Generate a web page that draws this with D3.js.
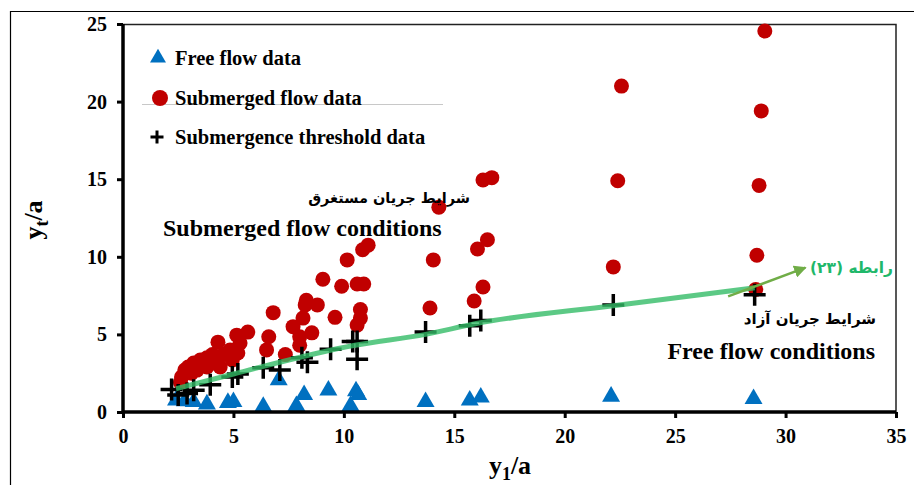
<!DOCTYPE html>
<html>
<head>
<meta charset="utf-8">
<script src="https://cdn.jsdelivr.net/npm/d3@7"></script>
<style>
  body { margin: 0; background: #fff; }
  svg { display: block; }
  .tick text { font-family: "Liberation Serif", "Times New Roman", serif; font-weight: bold; font-size: 20px; fill: #000; }
</style>
</head>
<body>
<div id="chart"></div>
<script>
// axis ticks
const xTicks = [0, 5, 10, 15, 20, 25, 30, 35];
const yTicks = [0, 5, 10, 15, 20, 25];

// free flow data (triangles)
const freeX = [2.4, 2.8, 3.2, 3.8, 4.75, 5.0, 6.35, 7.05, 7.85, 8.2, 9.3, 10.3, 10.55, 10.65, 13.7, 15.7, 16.2, 22.1, 28.55];
const freeY = [0.75, 0.7, 0.65, 0.5, 0.6, 0.65, 0.35, 2.05, 0.4, 1.1, 1.4, 0.4, 1.35, 1.1, 0.65, 0.75, 0.95, 1.0, 0.85];

// submerged flow data (circles)
const subX = [2.6, 2.65, 2.8, 2.95, 3.1, 3.2, 3.35, 3.5, 3.8, 3.8, 4.05, 4.2, 4.3, 4.4, 4.55, 4.85, 4.95, 5.15, 5.2, 5.3, 5.65,
  6.5, 6.6, 6.8, 7.35, 7.7, 8.0, 8.0, 8.15, 8.25, 8.3, 8.55, 8.8, 9.05, 9.6, 9.9, 10.15, 10.6, 10.6, 10.75, 10.75, 10.85, 10.9, 11.1,
  13.9, 14.05, 14.3, 15.9, 16.05, 16.3, 16.3, 16.5, 16.7,
  22.2, 22.4, 22.57, 28.65, 28.7, 28.8, 28.9, 29.06];
const subY = [1.9, 2.25, 2.7, 2.9, 2.5, 3.15, 2.7, 3.35, 3.5, 2.9, 3.7, 3.2, 4.5, 2.9, 3.7, 4.0, 3.35, 4.95, 3.8, 4.45, 5.15,
  4.0, 4.85, 6.4, 3.7, 5.5, 4.85, 4.3, 6.05, 6.9, 7.2, 5.1, 6.9, 8.55, 6.1, 8.1, 9.8, 5.6, 8.25, 6.6, 6.05, 10.45, 8.25, 10.75,
  6.7, 9.8, 13.2, 7.15, 10.5, 8.05, 14.95, 11.1, 15.1,
  9.35, 14.9, 21.0, 7.9, 10.1, 14.6, 19.4, 24.55];

// submergence threshold data (plus)
const thrX = [2.2, 2.5, 2.9, 3.2, 3.95, 4.95, 5.2, 6.35, 7.1, 8.1, 8.35, 9.4, 10.4, 10.6, 10.6, 13.7, 15.7, 16.2, 22.2, 28.6];
const thrY = [1.45, 1.1, 1.2, 1.4, 1.75, 2.25, 2.45, 2.85, 2.7, 3.5, 3.2, 4.05, 4.55, 4.55, 3.4, 5.15, 5.55, 5.9, 6.9, 7.55];

// relation (23) curve
const relX = [2.4, 5.0, 10.5, 13.7, 16.0, 22.2, 28.6];
const relY = [1.5, 2.45, 4.3, 5.0, 5.7, 6.85, 8.0];

const legendLabels = ["Free flow data", "Submerged flow data", "Submergence threshold data"];

const W = 914, H = 485;
const margin = { top: 24, right: 18, bottom: 73, left: 123 };
const width = W - margin.left - margin.right;
const height = H - margin.top - margin.bottom;

const svg = d3.select("#chart").append("svg")
  .attr("width", W).attr("height", H);

// outer frame
svg.append("path")
  .attr("d", `M10.5,${H} V11.5 H${W}`)
  .attr("fill", "none").attr("stroke", "#000").attr("stroke-width", 1.2);

const g = svg.append("g").attr("transform", `translate(${margin.left},${margin.top})`);

const x = d3.scaleLinear().domain([0, 35]).range([0, width]);
const y = d3.scaleLinear().domain([0, 25]).range([height, 0]);

// plot frame (top and right)
g.append("path")
  .attr("d", `M0,0.5 H${width} V${height}`)
  .attr("fill", "none").attr("stroke", "#222").attr("stroke-width", 1.5);

const serif = '"Liberation Serif", "Times New Roman", serif';
const fa = '"DejaVu Sans", sans-serif';

// data marks
const tri = d3.symbol().type(d3.symbolTriangle).size(140);
g.append("g").selectAll("path")
  .data(freeX.map((v, i) => [v, freeY[i]]))
  .join("path")
  .attr("d", tri)
  .attr("transform", d => `translate(${x(d[0])},${y(d[1])})`)
  .attr("fill", "#0070c0");

g.append("g").selectAll("circle")
  .data(subX.map((v, i) => [v, subY[i]]))
  .join("circle")
  .attr("cx", d => x(d[0])).attr("cy", d => y(d[1]))
  .attr("r", 7.5)
  .attr("fill", "#c00000");

const plusPath = s => `M${-s},0 H${s} M0,${-s} V${s}`;
g.append("g").selectAll("path")
  .data(thrX.map((v, i) => [v, thrY[i]]))
  .join("path")
  .attr("d", plusPath(11))
  .attr("transform", d => `translate(${x(d[0])},${y(d[1])})`)
  .attr("stroke", "#000").attr("stroke-width", 3.5).attr("fill", "none");

// relation (23) line
const line = d3.line()
  .x(d => x(d[0])).y(d => y(d[1]))
  .curve(d3.curveMonotoneX);
g.append("path")
  .datum(relX.map((v, i) => [v, relY[i]]))
  .attr("d", line)
  .attr("fill", "none")
  .attr("stroke", "#33bb66").attr("stroke-opacity", 0.8)
  .attr("stroke-width", 5);

// axes
const xAxis = g.append("g")
  .attr("transform", `translate(0,${height})`)
  .call(d3.axisBottom(x).tickValues(xTicks).tickSize(6).tickPadding(11));
const yAxis = g.append("g")
  .call(d3.axisLeft(y).tickValues(yTicks).tickSize(6).tickPadding(10));
[xAxis, yAxis].forEach(a => {
  a.select(".domain").attr("stroke", "#000").attr("stroke-width", 3.5);
  a.selectAll(".tick line").attr("stroke", "#000").attr("stroke-width", 3);
});
xAxis.select(".domain").attr("d", `M0,0 H${width}`);
yAxis.select(".domain").attr("d", `M0,${height} V0`);

// axis titles
const yt = svg.append("text")
  .attr("transform", "translate(42,220) rotate(-90)")
  .attr("text-anchor", "middle")
  .attr("font-family", serif).attr("font-weight", "bold").attr("font-size", 26);
yt.append("tspan").text("y");
yt.append("tspan").attr("font-size", 18).attr("dy", 6).text("t");
yt.append("tspan").attr("dy", -6).text("/a");

const xt = svg.append("text")
  .attr("x", 510).attr("y", 474)
  .attr("text-anchor", "middle")
  .attr("font-family", serif).attr("font-weight", "bold").attr("font-size", 26);
xt.append("tspan").text("y");
xt.append("tspan").attr("font-size", 18).attr("dy", 6).text("1");
xt.append("tspan").attr("dy", -6).text("/a");

// legend
const lg = svg.append("g").attr("font-family", serif).attr("font-weight", "bold").attr("font-size", 20.5);
lg.append("line").attr("x1", 142).attr("x2", 443).attr("y1", 104.5).attr("y2", 104.5)
  .attr("stroke", "#c8c8c8").attr("stroke-width", 1);
lg.append("path").attr("d", d3.symbol().type(d3.symbolTriangle).size(110))
  .attr("transform", "translate(158,58)").attr("fill", "#0070c0");
lg.append("circle").attr("cx", 160).attr("cy", 98).attr("r", 8).attr("fill", "#c00000");
lg.append("path").attr("d", plusPath(6.5)).attr("transform", "translate(157,137)")
  .attr("stroke", "#000").attr("stroke-width", 3);
[65, 105, 144].forEach((yy, i) => {
  lg.append("text").attr("x", 175).attr("y", yy).text(legendLabels[i]);
});

// annotations
svg.append("text").attr("x", 470).attr("y", 203).attr("text-anchor", "end")
  .attr("font-family", fa).attr("font-weight", "bold").attr("font-size", 14.5)
  .text("شرایط جریان مستغرق");
svg.append("text").attr("x", 163).attr("y", 236)
  .attr("font-family", serif).attr("font-weight", "bold").attr("font-size", 24)
  .text("Submerged flow conditions");
svg.append("text").attr("x", 876).attr("y", 324).attr("text-anchor", "end")
  .attr("font-family", fa).attr("font-weight", "bold").attr("font-size", 15)
  .text("شرایط جریان آزاد");
svg.append("text").attr("x", 875).attr("y", 359).attr("text-anchor", "end")
  .attr("font-family", serif).attr("font-weight", "bold").attr("font-size", 24)
  .text("Free flow conditions");
svg.append("text").attr("x", 893).attr("y", 273).attr("text-anchor", "end")
  .attr("font-family", fa).attr("font-weight", "bold").attr("font-size", 15.5)
  .attr("fill", "#1fb86a")
  .text("رابطه (۲۳)");

// arrow
const defs = svg.append("defs");
defs.append("marker").attr("id", "arr")
  .attr("viewBox", "0 0 10 10").attr("refX", 9).attr("refY", 5)
  .attr("markerWidth", 5).attr("markerHeight", 5).attr("orient", "auto")
  .append("path").attr("d", "M0,0 L10,5 L0,10 Z").attr("fill", "#70ad47");
g.append("line")
  .attr("x1", x(27.4)).attr("y1", y(7.45))
  .attr("x2", x(30.9)).attr("y2", y(9.3))
  .attr("stroke", "#70ad47").attr("stroke-width", 2.5)
  .attr("marker-end", "url(#arr)");
</script>
</body>
</html>
